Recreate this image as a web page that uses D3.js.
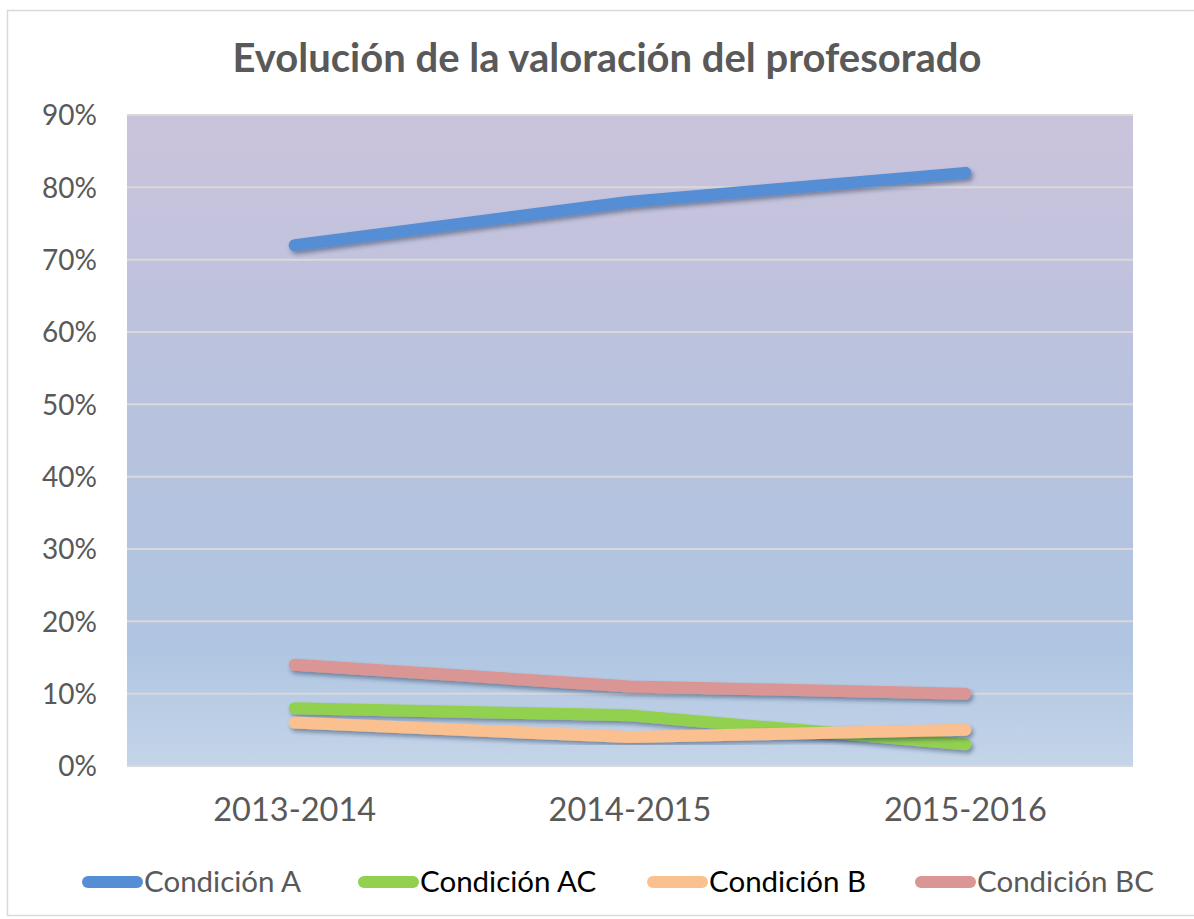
<!DOCTYPE html>
<html>
<head>
<meta charset="utf-8">
<script src="https://cdn.jsdelivr.net/npm/d3@7"></script>
<style>
  body { margin: 0; background: #fff; }
  svg { display: block; }
</style>
</head>
<body>
<svg id="graphContainer" width="1194" height="919"></svg>
<script>
// chart data
const categories = ['2013-2014', '2014-2015', '2015-2016'];
const seriesNames = ['Condición A', 'Condición AC', 'Condición B', 'Condición BC'];
const condA = [0.72, 0.78, 0.82];
const condAC = [0.08, 0.07, 0.03];
const condB = [0.06, 0.04, 0.05];
const condBC = [0.14, 0.11, 0.10];
const yTicks = [0, 0.1, 0.2, 0.3, 0.4, 0.5, 0.6, 0.7, 0.8, 0.9];

const colors = ['#558ed5', '#92d050', '#fac090', '#d99694'];
const legendText = ['#595959', '#000000', '#000000', '#595959'];
const series = [condA, condAC, condB, condBC];

const width = 1194;
const height = 919;
const margin = { top: 115, right: 61, bottom: 153, left: 127 };
const font = 'Lato, "Open Sans", sans-serif';

const svg = d3.select('#graphContainer');

// outer frame
svg.append('rect')
  .attr('x', 7.5).attr('y', 10.5)
  .attr('width', 1200).attr('height', 905)
  .attr('fill', '#fff')
  .attr('stroke', '#d9d9d9')
  .attr('stroke-width', 1.5);

const defs = svg.append('defs');
const grad = defs.append('linearGradient')
  .attr('id', 'bg')
  .attr('x1', 0).attr('y1', 0).attr('x2', 0).attr('y2', 1);
grad.append('stop').attr('offset', '0%').attr('stop-color', '#cbc3dc');
grad.append('stop').attr('offset', '45%').attr('stop-color', '#b8c2de');
grad.append('stop').attr('offset', '82%').attr('stop-color', '#afc5e1');
grad.append('stop').attr('offset', '100%').attr('stop-color', '#c5d5e9');

defs.append('filter')
  .attr('id', 'shadow')
  .attr('x', '-10%').attr('y', '-50%').attr('width', '120%').attr('height', '200%')
  .append('feDropShadow')
  .attr('dx', 2).attr('dy', 3)
  .attr('stdDeviation', 2.2)
  .attr('flood-color', '#1f2f4a')
  .attr('flood-opacity', 0.45);

const x = d3.scaleBand()
  .domain(categories)
  .range([margin.left, width - margin.right])
  .paddingInner(0).paddingOuter(0);

const y = d3.scaleLinear()
  .domain([0, 0.9])
  .range([height - margin.bottom, margin.top]);

// plot background
svg.append('rect')
  .attr('x', x.range()[0])
  .attr('y', y(0.9))
  .attr('width', x.range()[1] - x.range()[0])
  .attr('height', y(0) - y(0.9))
  .attr('fill', 'url(#bg)');

// gridlines
svg.append('g')
  .selectAll('line')
  .data(yTicks)
  .enter()
  .append('line')
  .attr('x1', x.range()[0])
  .attr('x2', x.range()[1])
  .attr('y1', d => y(d))
  .attr('y2', d => y(d))
  .attr('stroke', '#d9d9d9')
  .attr('stroke-width', 2);

// y axis labels
const yAxis = d3.axisLeft(y)
  .tickValues(yTicks)
  .tickFormat(d3.format('.0%'))
  .tickSize(0)
  .tickPadding(30);

svg.append('g')
  .attr('transform', `translate(${margin.left},0)`)
  .call(yAxis)
  .call(g => g.select('.domain').remove())
  .selectAll('text')
  .attr('font-family', font)
  .attr('font-size', 28)
  .attr('fill', '#595959')
  .attr('dy', '0.35em');

// x axis labels
const xAxis = d3.axisBottom(x).tickSize(0).tickPadding(32);
svg.append('g')
  .attr('transform', `translate(0,${y(0)})`)
  .call(xAxis)
  .call(g => g.select('.domain').remove())
  .selectAll('text')
  .attr('font-family', font)
  .attr('font-size', 32.5)
  .attr('fill', '#595959');

// lines
const line = d3.line()
  .x((d, i) => x(categories[i]) + x.bandwidth() / 2)
  .y(d => y(d));

svg.append('g')
  .selectAll('path')
  .data(series)
  .enter()
  .append('path')
  .attr('d', line)
  .attr('fill', 'none')
  .attr('stroke', (d, i) => colors[i])
  .attr('stroke-width', 12)
  .attr('stroke-linecap', 'round')
  .attr('stroke-linejoin', 'round')
  .attr('filter', 'url(#shadow)');

// title
svg.append('text')
  .attr('x', 607)
  .attr('y', 72)
  .attr('text-anchor', 'middle')
  .attr('font-family', font)
  .attr('font-weight', 'bold')
  .attr('font-size', 40)
  .attr('fill', '#595959')
  .text('Evolución de la valoración del profesorado');

// legend
const legendX = [88, 364, 653, 921];
const legend = svg.append('g')
  .selectAll('g')
  .data(seriesNames)
  .enter()
  .append('g')
  .attr('transform', (d, i) => `translate(${legendX[i]},882)`);

legend.append('line')
  .attr('x1', 0).attr('x2', 49)
  .attr('y1', 0).attr('y2', 0)
  .attr('stroke', (d, i) => colors[i])
  .attr('stroke-width', 12)
  .attr('stroke-linecap', 'round');

legend.append('text')
  .attr('x', 56)
  .attr('y', 0)
  .attr('dy', '0.35em')
  .attr('font-family', font)
  .attr('font-size', 29.5)
  .attr('fill', (d, i) => legendText[i])
  .text(d => d);
</script>
</body>
</html>
